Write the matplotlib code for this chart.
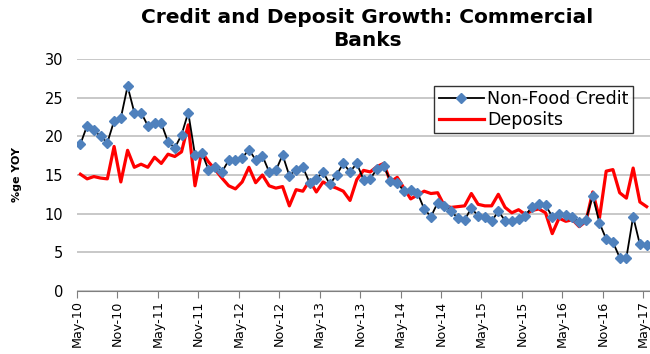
import matplotlib
matplotlib.use("Agg")
import matplotlib.pyplot as plt
import numpy as np

tick_labels = ["May-10", "Nov-10", "May-11", "Nov-11", "May-12", "Nov-12", "May-13",
               "Nov-13", "May-14", "Nov-14", "May-15", "Nov-15", "May-16", "Nov-16", "May-17"]

non_food_credit = [19.0, 21.4, 20.8, 20.0, 19.2, 22.0, 22.4, 26.5, 23.1, 23.1,
                   21.4, 21.8, 21.7, 19.3, 18.5, 20.2, 23.1, 17.6, 17.9, 15.7,
                   16.1, 15.4, 16.9, 16.95, 17.2, 18.3, 16.95, 17.5, 15.4, 15.6,
                   17.6, 14.9, 15.7, 16.0, 14.0, 14.5, 15.4, 13.8, 15.0, 16.5,
                   15.4, 16.5, 14.4, 14.5, 15.8, 16.2, 14.2, 14.0, 12.9, 13.1,
                   12.7, 10.6, 9.6, 11.4, 11.0, 10.3, 9.4, 9.2, 10.7, 9.7,
                   9.5, 9.0, 10.3, 9.1, 9.0, 9.3, 9.7, 10.9, 11.3, 11.1,
                   9.6, 10.0, 9.8, 9.5, 8.9, 9.2, 12.3, 8.8, 6.7, 6.3,
                   4.3, 4.3, 9.6, 6.0, 5.9]

deposits = [15.1, 14.5, 14.8, 14.6, 14.5, 18.7, 14.1, 18.2, 16.0, 16.4,
            16.0, 17.3, 16.5, 17.7, 17.4, 18.0, 21.5, 13.6, 18.0, 16.7,
            15.7, 14.6, 13.6, 13.2, 14.1, 16.0, 14.0, 15.0, 13.6, 13.3,
            13.5, 11.0, 13.1, 12.9, 14.3, 12.8, 14.1, 13.6, 13.3, 12.9,
            11.7, 14.4, 15.6, 15.4, 16.1, 16.5, 14.1, 14.7, 13.3, 11.9,
            12.4, 12.9, 12.6, 12.7, 11.0, 10.8, 10.9, 11.0, 12.6, 11.2,
            11.0, 11.0, 12.5, 10.8, 10.1, 10.5, 9.9, 10.4, 10.6, 10.1,
            7.4, 9.4, 9.0, 9.2, 8.3, 9.0, 12.8, 9.4, 15.5, 15.7,
            12.7, 12.0, 15.9, 11.5, 10.9]

x = np.arange(len(non_food_credit))

fig = plt.figure(figsize=(6.5, 3.54), dpi=100)
ax = fig.add_axes([0.1185, 0.1788, 0.8815, 0.6537])

ax.plot(x, non_food_credit, color="black", linewidth=1.3, marker="D",
        markersize=5.5, markerfacecolor="#4F81BD", markeredgecolor="#4F81BD",
        label="Non-Food Credit", zorder=3)
ax.plot(x, deposits, color="#FF0000", linewidth=2.3, label="Deposits", zorder=2)

ax.set_xlim(-0.5, 84.5)
ax.set_ylim(0, 30)
ax.set_yticks(np.arange(0, 31, 5))
ax.yaxis.grid(True, color="#BFBFBF", linewidth=1.2)
ax.set_axisbelow(True)
ax.tick_params(axis="y", length=0, labelsize=10.5, pad=10)

tick_pos = np.arange(0, len(non_food_credit), 6) - 0.5
ax.set_xticks(tick_pos)
ax.set_xticklabels(tick_labels, rotation=90, fontsize=9.2)
ax.tick_params(axis="x", length=5, color="#7F7F7F", direction="out", pad=2)

for s in ["left", "right", "top"]:
    ax.spines[s].set_visible(False)
ax.spines["bottom"].set_color("#7F7F7F")

ax.set_ylabel("%ge YOY", fontsize=8, fontweight="bold", labelpad=16)

fig.suptitle("Credit and Deposit Growth: Commercial\nBanks", fontsize=14.5,
             fontweight="bold", x=0.565, y=0.978, linespacing=1.25)

leg = ax.legend(loc="upper right", bbox_to_anchor=(0.974, 0.757),
                bbox_transform=fig.transFigure, fontsize=12.5, frameon=True,
                fancybox=False, edgecolor="black", handlelength=2.6,
                borderpad=0.25, labelspacing=0.15, handletextpad=0.2,
                borderaxespad=0)
leg.get_frame().set_linewidth(1.0)

fig.savefig("out.png", dpi=100)
